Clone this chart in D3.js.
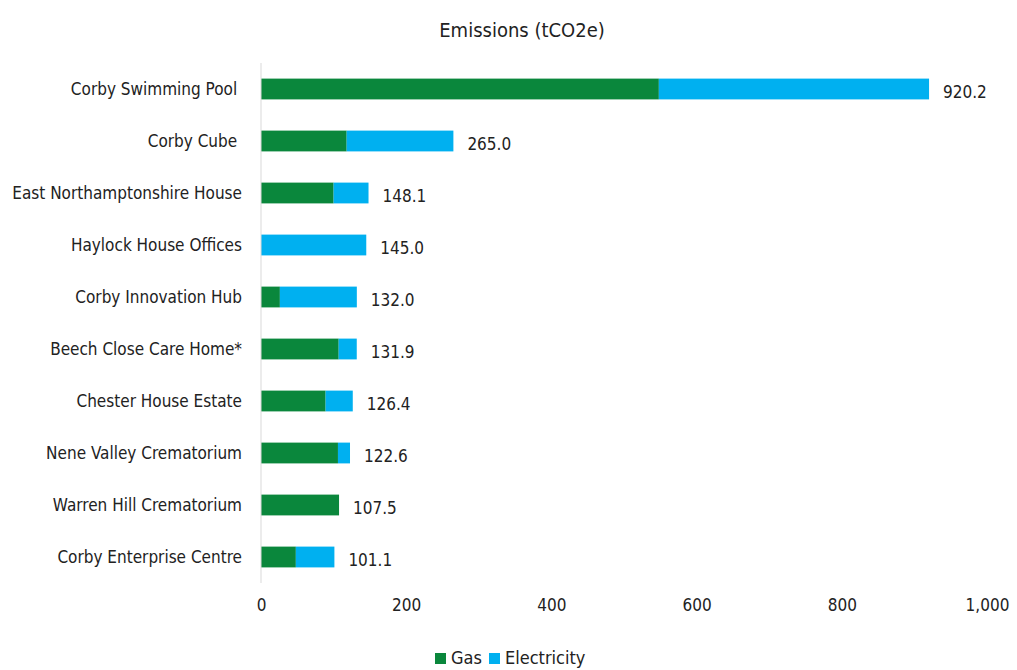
<!DOCTYPE html>
<html>
<head>
<meta charset="utf-8">
<script src="https://cdn.jsdelivr.net/npm/d3@7"></script>
<style>
  body { margin: 0; background: #fff; }
  svg text { font-family: "DejaVu Sans Condensed", "Noto Sans", sans-serif; fill: #222; white-space: pre; }
</style>
</head>
<body>
<div id="chart"></div>
<script>
// data
const sites = [
  "Corby Swimming Pool ", "Corby Cube ", "East Northamptonshire House",
  "Haylock House Offices", "Corby Innovation Hub", "Beech Close Care Home*",
  "Chester House Estate", "Nene Valley Crematorium", "Warren Hill Crematorium",
  "Corby Enterprise Centre"
];
const totals = [920.2, 265.0, 148.1, 145.0, 132.0, 131.9, 126.4, 122.6, 107.5, 101.1];
const gas = [548, 118, 100, 0, 26, 107, 89, 106, 107.5, 48];
const electricity = totals.map((t, i) => t - gas[i]);
const seriesNames = ["Gas", "Electricity"];
const xTicks = [0, 200, 400, 600, 800, 1000];
const colors = {Gas: "#0a873c", Electricity: "#00b0f0"};

const width = 1017, height = 670;
const svg = d3.select("#chart").append("svg")
  .attr("width", width)
  .attr("height", height);

const x = d3.scaleLinear().domain([0, 1000]).range([261, 987]);
const y = d3.scaleBand().domain(sites).range([63, 583])
  .paddingInner(0.6).paddingOuter(0.3);

// stacked rows
const rows = sites.map((s, i) => ({site: s, Gas: gas[i], Electricity: electricity[i], total: totals[i]}));
const stack = d3.stack().keys(seriesNames)(rows);

// title
svg.append("text")
  .attr("x", 522).attr("y", 37)
  .attr("text-anchor", "middle")
  .style("font-size", "20px")
  .text("Emissions (tCO2e)");

// bars
svg.append("g").selectAll("g")
  .data(stack)
  .join("g")
  .attr("fill", d => colors[d.key])
  .selectAll("rect")
  .data(d => d)
  .join("rect")
  .attr("x", d => x(d[0]))
  .attr("y", d => y(d.data.site))
  .attr("width", d => Math.max(0, x(d[1]) - x(d[0])))
  .attr("height", y.bandwidth());

// y axis line
svg.append("line")
  .attr("x1", x(0)).attr("x2", x(0))
  .attr("y1", 63).attr("y2", 583)
  .attr("stroke", "#d9d9d9")
  .attr("stroke-width", 1);

// category labels
svg.append("g").selectAll("text")
  .data(sites)
  .join("text")
  .attr("x", 242)
  .attr("y", d => y(d) + y.bandwidth() / 2)
  .attr("dy", "0.35em")
  .attr("text-anchor", "end")
  .style("font-size", "17px")
  .text(d => d);

// value labels
svg.append("g").selectAll("text")
  .data(rows)
  .join("text")
  .attr("x", d => x(d.total) + 14)
  .attr("y", d => y(d.site) + y.bandwidth() / 2 + 3)
  .attr("dy", "0.35em")
  .style("font-size", "17px")
  .text(d => d3.format(".1f")(d.total));

// x axis
const xAxis = svg.append("g")
  .attr("transform", "translate(0,596)")
  .call(d3.axisBottom(x).tickValues(xTicks).tickSize(0).tickFormat(d3.format(",")));
xAxis.select(".domain").remove();
xAxis.selectAll("text")
  .attr("dy", "0.71em")
  .style("font-size", "17px")
  .style("font-family", "'DejaVu Sans Condensed', 'Noto Sans', sans-serif")
  .attr("fill", "#222");

// legend
const legend = svg.append("g").attr("transform", "translate(435,657)");
const items = legend.selectAll("g")
  .data(seriesNames)
  .join("g")
  .attr("transform", (d, i) => `translate(${i * 54},0)`);
items.append("rect")
  .attr("x", 0).attr("y", -4)
  .attr("width", 11).attr("height", 11)
  .attr("fill", d => colors[d]);
items.append("text")
  .attr("x", 16).attr("y", 1)
  .attr("dy", "0.35em")
  .style("font-size", "18px")
  .text(d => d);
</script>
</body>
</html>
